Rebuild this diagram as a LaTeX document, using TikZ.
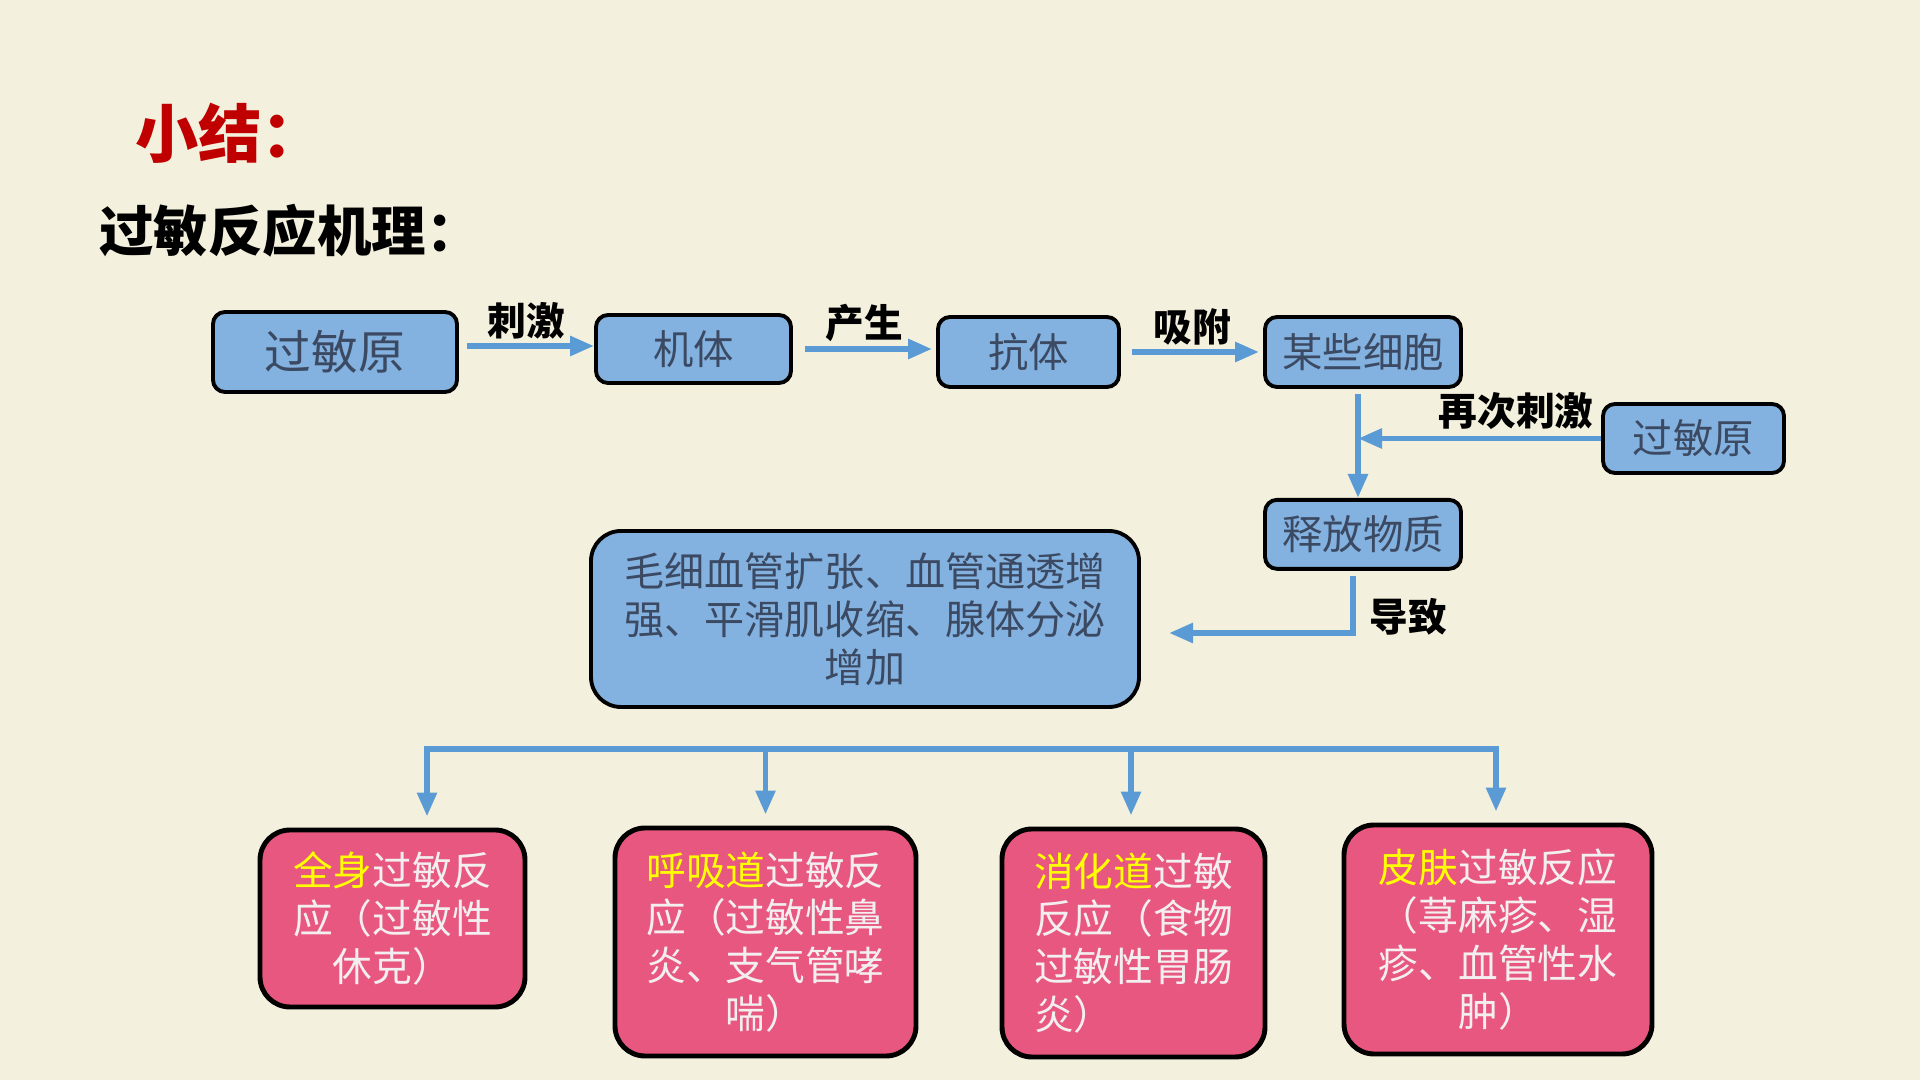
\documentclass[tikz,border=0pt]{standalone}
\usepackage{fontspec}
\setmainfont{Noto Sans CJK SC}
\usepackage{xcolor}
\usepackage{tikz}
\usetikzlibrary{arrows.meta,positioning}
\definecolor{paper}{HTML}{F4F0DE}
\definecolor{boxblue}{HTML}{84B2E0}
\definecolor{inkblue}{HTML}{3B4A62}
\definecolor{arrblue}{HTML}{5B9BD5}
\definecolor{rosered}{HTML}{E8577F}
\definecolor{titlered}{HTML}{C00000}
\definecolor{hiyellow}{HTML}{FFFF00}
\definecolor{pinktext}{HTML}{F3EFF0}
\newcommand{\hl}[1]{\textcolor{hiyellow}{#1}}

\begin{document}
\begin{tikzpicture}[
box/.style={rectangle,rounded corners=1.2mm,draw=black,line width=1.1pt,fill=boxblue,text=inkblue,align=center,inner sep=0pt,font=\fontsize{11.5}{14}\selectfont},
bigbox/.style={box,rounded corners=3mm,font=\fontsize{11.4}{13.6}\selectfont},
res/.style={rectangle,rounded corners=3mm,draw=black,line width=1.4pt,fill=rosered,text=pinktext,align=center,inner sep=0pt,font=\fontsize{11.3}{13.6}\selectfont},
lab/.style={font=\bfseries\fontsize{11}{13}\selectfont,text=black,inner sep=0pt},
arr/.style={-{Triangle[length=2.4mm,width=1.9mm]},line width=1.6pt,arrblue},
bar/.style={line width=1.6pt,arrblue,line cap=rect}
]
\fill[paper] (0,0) rectangle (19.2,10.8);
\path[use as bounding box] (0,0) rectangle (19.2,10.8);
\node[anchor=west,text=titlered,font=\bfseries\fontsize{18}{20}\selectfont] (xiaojie) at (1.23,9.47) {小结：};
\node[anchor=west,font=\bfseries\fontsize{15.5}{18}\selectfont] (jili) at (0.87,8.49) {过敏反应机理：};
\node[box,minimum width=2.44cm,minimum height=0.80cm,font=\fontsize{13.3}{16}\selectfont] (guomin) at (3.35,7.28) {过敏原};
\node[box,minimum width=1.95cm,minimum height=0.68cm] (jiti) at (6.935,7.31) {机体};
\node[box,minimum width=1.81cm,minimum height=0.70cm] (kangti) at (10.285,7.28) {抗体};
\node[box,minimum width=1.96cm,minimum height=0.70cm] (xibao) at (13.63,7.28) {某些细胞};
\node[box,minimum width=1.81cm,minimum height=0.69cm] (guomin2) at (16.935,6.415) {过敏原};
\node[box,minimum width=1.96cm,minimum height=0.69cm,below=1.09cm of xibao] (shifang) {释放物质};
\node[bigbox,minimum width=5.48cm,minimum height=1.76cm] (xiaoguo) at (8.65,4.61) {毛细血管扩张、血管通透增\\强、平滑肌收缩、腺体分泌\\增加};
\node[res,minimum width=2.65cm,minimum height=1.77cm] (quanshen) at (3.925,1.615) {\hl{全身}过敏反\\应（过敏性\\休克）};
\node[res,minimum width=3.01cm,minimum height=2.28cm] (huxi) at (7.655,1.38) {\hl{呼吸道}过敏反\\应（过敏性鼻\\炎、支气管哮\\喘）};
\node[res,minimum width=2.63cm,minimum height=2.28cm,align=left] (xiaohua) at (11.335,1.37) {\hl{消化道}过敏\\反应（食物\\过敏性胃肠\\炎）};
\node[res,minimum width=3.08cm,minimum height=2.29cm] (pifu) at (14.98,1.405) {\hl{皮肤}过敏反应\\（荨麻疹、湿\\疹、血管性水\\肿）};
\draw[arr,shorten <=0.8mm] ([yshift=0.3mm]guomin.east |- jiti.west) -- node[lab,midway,above=0.4mm] (ciji) {刺激} ([yshift=0.3mm]jiti.west);
\draw[arr,shorten <=1.2mm,shorten >=0.4mm] (jiti.east) -- node[lab,midway,above=0.4mm] (chansheng) {产生} (jiti.east -| kangti.west);
\draw[arr,shorten <=1.1mm,shorten >=0.4mm] (kangti.east) -- node[lab,midway,above=0.4mm] (xifu) {吸附} (kangti.east -| xibao.west);
\coordinate (xb) at ([xshift=-0.5mm,yshift=-0.5mm]xibao.south);
\coordinate (sf) at ([xshift=-0.5mm]shifang.north);
\draw[arr] (xb) -- (sf);
\coordinate (hui) at (xb |- guomin2.west);
\draw[arr] (guomin2.west) -- node[lab,pos=0.35,above=0.6mm] (zaici) {再次刺激} (hui);
\coordinate (sfd) at ([xshift=-1mm,yshift=-0.5mm]shifang.south);
\coordinate (daozhi) at (11.69,4.47);
\draw[arr] (sfd) |- node[lab,pos=0.36,right=1.4mm] (dz) {导致} (daozhi);
\coordinate (fenL) at (4.27,3.31);
\coordinate (fenR) at (14.96,3.31);
\draw[bar] (fenL) -- (fenR);
\foreach \n/\dx in {quanshen/0.345,huxi/0,xiaohua/-0.025,pifu/-0.02}{
  \coordinate (t\n) at ([xshift=\dx cm]\n.north);
  \draw[arr,shorten >=1.1mm] (t\n |- fenL) -- (t\n);
}
\end{tikzpicture}
\end{document}
